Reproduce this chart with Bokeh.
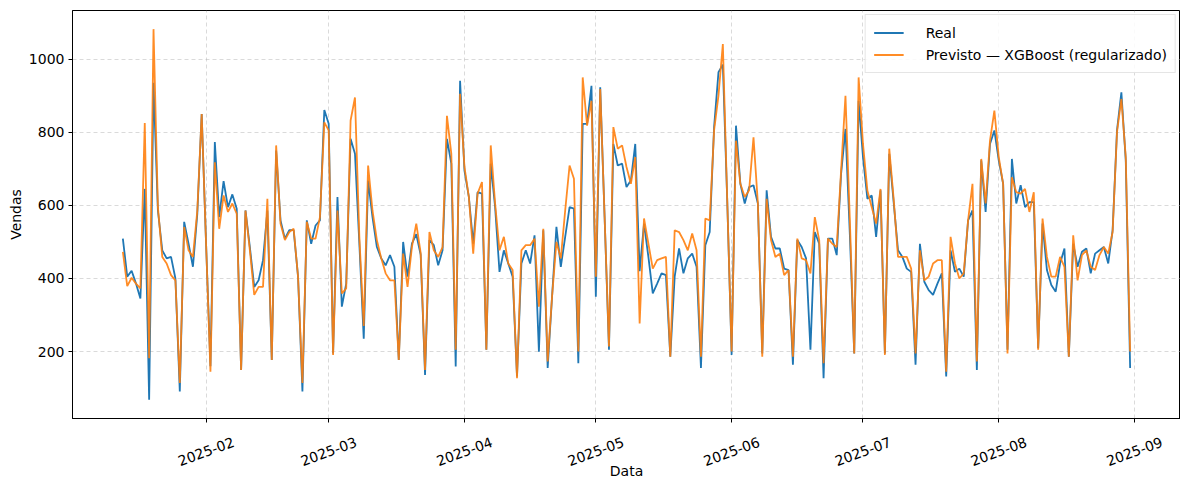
import math
import pandas as pd
from bokeh.plotting import figure
from bokeh.layouts import column
from bokeh.models import (ColumnDataSource, FixedTicker, Range1d, Legend,
                          LegendItem)
from bokeh.core.properties import value
from bokeh.embed import file_html
from bokeh.resources import INLINE

start_date = "2025-01-13"
end_date = "2025-08-31"

real = [509, 405, 421, 386, 345, 645, 68, 935, 586, 477,
        455, 459, 400, 91, 555, 495, 432, 577, 850, 495,
        160, 773, 568, 666, 595, 630, 591, 150, 586, 486,
        377, 395, 450, 586, 177, 750, 559, 509, 532, 532,
        405, 91, 559, 495, 545, 559, 861, 823, 195, 623,
        323, 386, 782, 741, 495, 235, 668, 568, 486, 455,
        436, 464, 432, 177, 500, 405, 495, 521, 465, 136,
        505, 491, 436, 477, 782, 714, 159, 941, 695, 623,
        495, 636, 632, 205, 714, 595, 418, 477, 441, 405,
        132, 441, 477, 441, 518, 200, 532, 155, 350, 541,
        432, 514, 595, 591, 168, 823, 823, 927, 350, 923,
        568, 205, 768, 709, 714, 650, 668, 768, 420, 550,
        459, 359, 386, 414, 409, 186, 405, 482, 414, 455,
        468, 432, 155, 491, 527, 814, 964, 985, 614, 191,
        818, 659, 605, 650, 655, 605, 195, 641, 514, 482,
        482, 427, 423, 164, 505, 486, 455, 205, 527, 495,
        127, 509, 509, 464, 686, 809, 520, 195, 886, 732,
        618, 627, 514, 641, 195, 741, 609, 477, 459, 427,
        418, 164, 495, 391, 368, 355, 386, 414, 132, 477,
        418, 427, 405, 559, 586, 150, 723, 582, 768, 805,
        723, 659, 205, 727, 605, 655, 595, 609, 609, 209,
        550, 423, 382, 364, 441, 482, 186, 495, 432, 473,
        482, 414, 468, 477, 486, 441, 532, 805, 909, 723,
        155]

previsto = [473, 379, 402, 386, 373, 825, 182, 1082, 595, 459,
            441, 409, 395, 114, 541, 477, 459, 586, 850, 495,
            145, 718, 536, 627, 582, 605, 577, 150, 586, 477,
            355, 377, 377, 618, 177, 764, 550, 505, 527, 536,
            405, 114, 555, 509, 509, 568, 827, 805, 191, 586,
            359, 373, 832, 895, 514, 270, 709, 586, 505, 455,
            414, 395, 395, 177, 468, 377, 486, 550, 470, 150,
            527, 477, 459, 486, 845, 741, 205, 905, 705, 623,
            468, 632, 664, 205, 764, 605, 477, 514, 441, 423,
            127, 477, 491, 491, 509, 323, 536, 173, 350, 500,
            455, 586, 709, 673, 200, 950, 818, 886, 405, 918,
            568, 214, 814, 755, 764, 705, 659, 732, 277, 564,
            495, 427, 450, 455, 459, 186, 532, 527, 505, 477,
            523, 477, 186, 564, 559, 805, 900, 1041, 614, 200,
            777, 659, 623, 641, 786, 605, 186, 618, 505, 459,
            468, 409, 423, 186, 509, 455, 450, 414, 568, 505,
            168, 509, 495, 486, 695, 900, 560, 195, 950, 768,
            641, 595, 550, 645, 191, 755, 618, 459, 459, 459,
            427, 195, 477, 395, 405, 441, 450, 450, 145, 514,
            441, 400, 414, 559, 659, 173, 727, 605, 777, 859,
            732, 659, 195, 677, 636, 632, 645, 582, 636, 205,
            564, 459, 405, 405, 459, 432, 186, 518, 395, 464,
            477, 432, 423, 464, 486, 468, 527, 800, 891, 732,
            200]

month_ticks = ["2025-02-01", "2025-03-01", "2025-04-01", "2025-05-01",
               "2025-06-01", "2025-07-01", "2025-08-01", "2025-09-01"]
month_labels = ["2025-02", "2025-03", "2025-04", "2025-05",
                "2025-06", "2025-07", "2025-08", "2025-09"]
y_ticks = [200, 400, 600, 800, 1000]

dates = pd.date_range(start_date, end_date, freq="D")
n = min(len(dates), len(real), len(previsto))
src = ColumnDataSource(dict(d=dates[:n], real=real[:n], prev=previsto[:n]))


def ms(s):
    return pd.Timestamp(s).value // 10**6


FONT = "DejaVu Sans"
W = 1180
LEFT = 72
TOP = 10
FRAME_H = 408
BOT = 12
STRIP_H = 49

xr = Range1d(ms("2025-01-01 12:00"), ms("2025-09-11 12:00"))

p = figure(width=W, height=TOP + FRAME_H + BOT, x_axis_type="datetime",
           output_backend="svg", toolbar_location=None,
           x_range=xr, y_range=Range1d(17, 1133),
           min_border_left=LEFT, min_border_right=0, min_border_top=TOP,
           min_border_bottom=BOT)
p.background_fill_color = "white"
p.border_fill_color = "white"
p.outline_line_color = "black"
p.outline_line_width = 1
p.outline_line_alpha = 1

r1 = p.line("d", "real", source=src, line_color="#1f77b4", line_width=1.8)
r2 = p.line("d", "prev", source=src, line_color="#ff7f0e", line_width=1.8,
            line_alpha=0.9)

p.xaxis.ticker = FixedTicker(ticks=[ms(t) for t in month_ticks])
p.xaxis.major_label_overrides = {ms(t): "" for t in month_ticks}
p.xaxis.major_label_text_font_size = "0px"
p.xaxis.major_label_standoff = 0
p.yaxis.ticker = FixedTicker(ticks=y_ticks)

p.yaxis.axis_label = "Vendas"
for ax in (p.xaxis, p.yaxis):
    ax.axis_label_text_font = FONT
    ax.axis_label_text_font_size = "14px"
    ax.axis_label_text_font_style = "normal"
    ax.axis_label_text_color = "black"
    ax.major_label_text_font = FONT
    ax.major_label_text_color = "black"
    ax.axis_line_color = "black"
    ax.major_tick_line_color = "black"
    ax.major_tick_out = 4
    ax.major_tick_in = 0
    ax.minor_tick_line_color = None
p.yaxis.major_label_text_font_size = "14px"
p.yaxis.axis_label_standoff = 2
p.yaxis.major_label_standoff = 4

for g in (p.xgrid, p.ygrid):
    g.grid_line_color = "#b0b0b0"
    g.grid_line_alpha = 0.6
    g.grid_line_dash = "4 3"
    g.grid_line_width = 0.8

legend = Legend(items=[LegendItem(label="Real", renderers=[r1]),
                       LegendItem(label="Previsto — XGBoost (regularizado)",
                                  renderers=[r2])],
                location="top_right")
legend.label_text_font = FONT
legend.label_text_font_size = "14px"
legend.label_text_color = "black"
legend.border_line_color = "#cccccc"
legend.border_line_width = 1
legend.background_fill_alpha = 0.85
legend.glyph_width = 30
legend.glyph_height = 19
legend.label_height = 19
legend.label_standoff = 22
legend.spacing = 3
legend.padding = 8
legend.margin = 4
p.add_layout(legend)

# strip below the plot: centred, rotated month labels and the x-axis title
s = figure(width=W, height=STRIP_H, x_range=xr, y_range=Range1d(0, STRIP_H),
           output_backend="svg", toolbar_location=None,
           x_axis_location=None, y_axis_location=None,
           min_border_left=LEFT, min_border_right=0, min_border_top=0,
           min_border_bottom=0)
s.outline_line_color = None
s.grid.visible = False
s.background_fill_color = "white"
s.border_fill_color = "white"
s.text(x=[ms(t) for t in month_ticks], y=[STRIP_H - 21] * len(month_ticks),
       text=month_labels, angle=math.radians(20), text_align="center",
       text_baseline="middle", text_font=value(FONT), text_font_size="14px",
       text_color="black")
s.text(x=[(xr.start + xr.end) / 2], y=[9], text=["Data"],
       text_align="center", text_baseline="middle", text_font=value(FONT),
       text_font_size="14px", text_color="black")

layout = column(p, s, spacing=0)
open("out.html", "w").write(file_html(layout, INLINE))
